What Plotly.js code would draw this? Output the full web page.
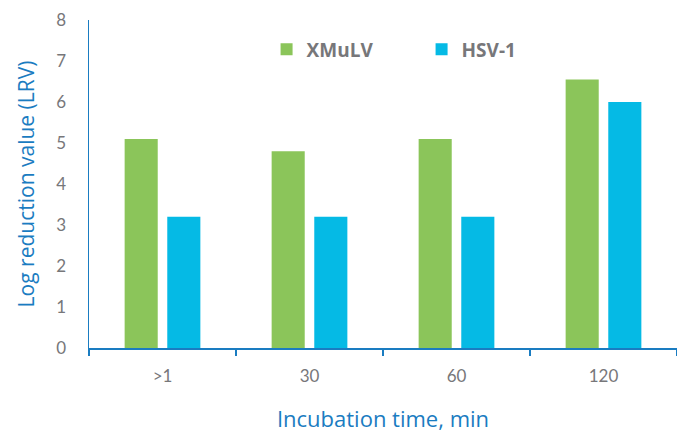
<!DOCTYPE html>
<html><head><meta charset="utf-8">
<script src="https://cdn.plot.ly/plotly-3.0.1.min.js"></script>
<style>html,body{margin:0;padding:0;background:#fff}#c{width:677px;height:433px}</style>
</head><body><div id="c"></div>
<script>
const categories = [">1", "30", "60", "120"];
const xmulv = [5.1, 4.8, 5.1, 6.55];
const hsv1 = [3.2, 3.2, 3.2, 6.0];
const seriesNames = ["XMuLV", "HSV-1"];
const yTicks = [0,1,2,3,4,5,6,7,8];

const blueAxis = "#1a7cc1";
const grey = "#77777a";
const traces = [
  {type:"bar", name:seriesNames[0], x:categories, y:xmulv, marker:{color:"#8bc55a"}},
  {type:"bar", name:seriesNames[1], x:categories, y:hsv1, marker:{color:"#05bae5"}}
];
const layout = {
  width:677, height:433,
  margin:{l:89, r:0, t:20, b:85},
  paper_bgcolor:"#fff", plot_bgcolor:"#fff",
  barmode:"group", bargap:0.42, bargroupgap:0.224,
  font:{family:"Lato, 'Open Sans', sans-serif", color:grey},
  showlegend:true,
  legend:{orientation:"h", x:0.302, y:0.91, xanchor:"left", yanchor:"middle",
    font:{size:19, color:grey, family:"'Open Sans', sans-serif", weight:"bold"},
    entrywidth:110, entrywidthmode:"pixels", itemwidth:30, bgcolor:"rgba(0,0,0,0)"},
  xaxis:{type:"category", range:[-0.5, 3.5], showline:true, linecolor:blueAxis, linewidth:2,
    ticks:"outside", ticklen:6, tickcolor:blueAxis, tickwidth:1.5, tickson:"boundaries",
    ticklabelstandoff:12,
    tickfont:{size:17, color:grey}, showgrid:false, zeroline:false,
    title:{text:"Incubation time, min", font:{size:22, color:blueAxis, family:"'Open Sans', sans-serif"}, standoff:28}},
  yaxis:{range:[0,8], tickvals:yTicks, showline:true, linecolor:blueAxis, linewidth:1.5,
    ticks:"", showgrid:false, zeroline:false, ticklabelstandoff:18,
    tickfont:{size:17, color:grey},
    title:{text:"Log reduction value (LRV)", font:{size:21, color:blueAxis, family:"'Open Sans', sans-serif"}, standoff:16}}
};
Plotly.newPlot("c", traces, layout, {displayModeBar:false, staticPlot:true});
</script></body></html>
